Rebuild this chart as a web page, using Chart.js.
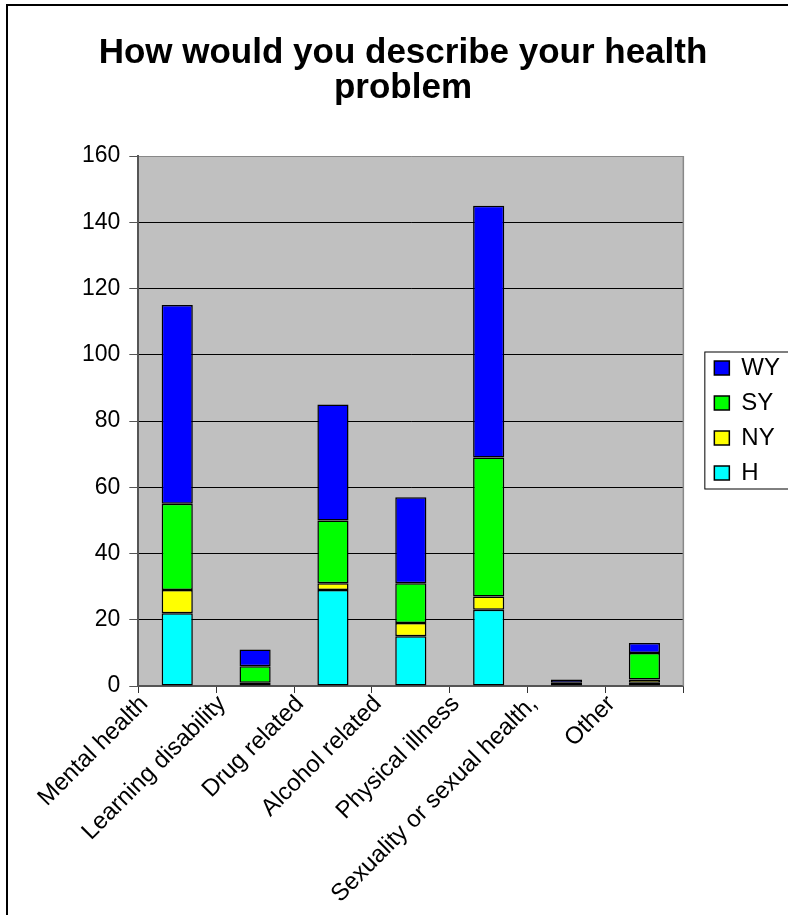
<!DOCTYPE html>
<html>
<head>
<meta charset="utf-8">
<title>How would you describe your health problem</title>
<script src="https://cdn.jsdelivr.net/npm/chart.js@4.4.1/dist/chart.umd.min.js"></script>
<style>
    body { margin: 0; background: #fff; }
    canvas { display: block; }
</style>
</head>
<body>
<canvas id="graphique-sante" width="788" height="915"></canvas>
<script>
const categories = ["Mental health", "Learning disability", "Drug related", "Alcohol related",
    "Physical illness", "Sexuality or sexual health,", "Other"];
const valeursH  = [22, 1, 29, 15, 23, 1, 1];
const valeursNY = [7, 0, 2, 4, 4, 0, 1];
const valeursSY = [26, 5, 19, 12, 42, 0, 8];
const valeursWY = [60, 5, 35, 26, 76, 1, 3];
const yTicks = [0, 20, 40, 60, 80, 100, 120, 140, 160];

const police = "'Liberation Sans', Arial, sans-serif";

// fond blanc, cadre, zone grise du graphique
const decor = {
    id: 'decor',
    afterLayout(chart) {
        // place la légende comme dans Excel (à droite, centrée sur la zone de tracé)
        const lg = chart.legend;
        lg.left += 20; lg.right += 20;
        lg.top -= 37; lg.bottom -= 37;
    },
    beforeDraw(chart) {
        const { ctx, chartArea: a } = chart;
        ctx.save();
        ctx.fillStyle = '#fff';
        ctx.fillRect(0, 0, chart.width, chart.height);
        ctx.strokeStyle = '#000';
        ctx.lineWidth = 2;
        ctx.strokeRect(7, 5, chart.width + 20, chart.height + 20);
        ctx.fillStyle = '#c0c0c0';
        ctx.fillRect(a.left, a.top, a.right - a.left, a.bottom - a.top);
        ctx.restore();
    },
    afterDraw(chart) {
        const { ctx, chartArea: a } = chart;
        ctx.save();
        ctx.strokeStyle = '#888';
        ctx.lineWidth = 1.5;
        ctx.beginPath();
        ctx.moveTo(a.right, a.top);
        ctx.lineTo(a.right, a.bottom);
        ctx.stroke();
        // cadre de la légende
        const lg = chart.legend;
        const cy = (lg.top + lg.bottom) / 2;
        ctx.strokeStyle = '#000';
        ctx.lineWidth = 1;
        ctx.strokeRect(lg.left + 1.5, cy - 68.5, 200, 137);
        ctx.restore();
    }
};

function serie(label, data, couleur) {
    return {
        label: label,
        data: data,
        backgroundColor: couleur,
        borderColor: '#000',
        borderWidth: 1.5,
        borderSkipped: false,
        categoryPercentage: 1,
        barPercentage: 0.4
    };
}

const ctx = document.getElementById("graphique-sante").getContext("2d");
new Chart(ctx, {
    type: 'bar',
    data: {
        labels: categories,
        datasets: [
            serie("H", valeursH, '#00ffff'),
            serie("NY", valeursNY, '#ffff00'),
            serie("SY", valeursSY, '#00ff00'),
            serie("WY", valeursWY, '#0000ff')
        ]
    },
    options: {
        responsive: false,
        animation: false,
        devicePixelRatio: 1,
        layout: { padding: { left: 36, right: 18, top: 0, bottom: 0 } },
        plugins: {
            title: {
                display: true,
                text: ["How would you describe your health", "problem"],
                color: '#000',
                font: { family: police, size: 35, weight: 'bold', lineHeight: 1.0 },
                padding: { top: 36, bottom: 50 }
            },
            legend: {
                position: 'right',
                reverse: true,
                labels: {
                    color: '#000',
                    font: { family: police, size: 24 },
                    boxWidth: 15,
                    boxHeight: 14,
                    padding: 11
                }
            },
            tooltip: { enabled: false }
        },
        scales: {
            x: {
                stacked: true,
                afterFit: s => { s.height = 229; },
                grid: {
                    offset: true,
                    drawOnChartArea: false,
                    drawTicks: true,
                    tickLength: 7,
                    tickColor: '#333'
                },
                border: { color: '#555', width: 2 },
                ticks: {
                    autoSkip: false,
                    minRotation: 45,
                    maxRotation: 45,
                    labelOffset: -33,
                    padding: -3,
                    color: '#000',
                    font: { family: police, size: 24 }
                }
            },
            y: {
                stacked: true,
                min: yTicks[0],
                max: yTicks[yTicks.length - 1],
                afterFit: s => { s.width = 102.3; },
                afterBuildTicks: s => { s.ticks = yTicks.map(v => ({ value: v })); },
                grid: {
                    color: c => c.tick.value === 160 ? '#888' : (c.tick.value === 0 ? '#555' : '#000'),
                    lineWidth: 1,
                    tickLength: 9,
                    tickColor: '#555'
                },
                border: { color: '#555', width: 2 },
                ticks: {
                    padding: 9,
                    color: '#000',
                    font: { family: police, size: 23 }
                }
            }
        }
    },
    plugins: [decor]
});
</script>
</body>
</html>
